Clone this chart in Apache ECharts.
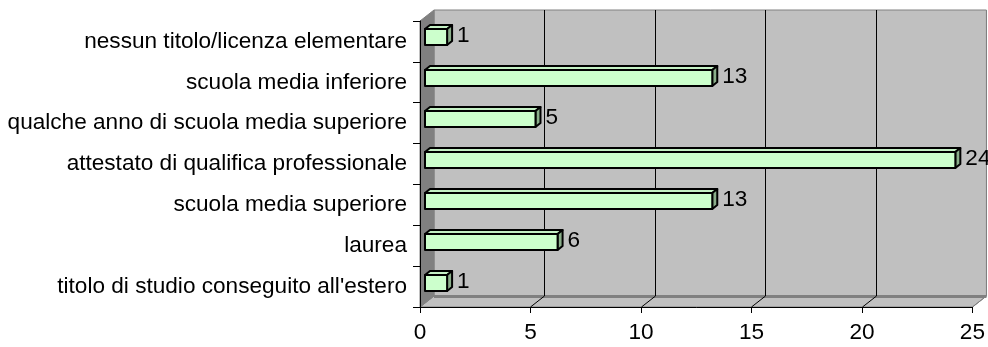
<!DOCTYPE html>
<html>
<head>
<meta charset="utf-8">
<script src="https://cdn.jsdelivr.net/npm/echarts@6/dist/echarts.min.js"></script>
<style>
html,body{margin:0;padding:0;background:#fff;}
#c{width:988px;height:347px;}
</style>
</head>
<body>
<div id="c"></div>
<script>
const categories = ['nessun titolo/licenza elementare', 'scuola media inferiore', 'qualche anno di scuola media superiore', 'attestato di qualifica professionale', 'scuola media superiore', 'laurea', "titolo di studio conseguito all'estero"];
const values = [1, 13, 5, 24, 13, 6, 1];
const xTicks = [0, 5, 10, 15, 20, 25];

const FONT = '"Liberation Sans", Arial, sans-serif';
const FS = 22.6;
const WD = 14, WH = -11; // wall depth offset

const chart = echarts.init(document.getElementById('c'), null, {renderer: 'canvas'});

function renderBackground(params, api) {
  const cs = params.coordSys;
  const X = cs.x, Y = cs.y, W = cs.width, H = cs.height;
  const children = [];
  children.push({type: 'rect', shape: {x: X + WD, y: Y + WH, width: W, height: H}, style: {fill: '#c0c0c0', stroke: '#808080', lineWidth: 1}});
  children.push({type: 'polygon', shape: {points: [[X, Y + H], [X + WD, Y + H + WH], [X + W + WD, Y + H + WH], [X + W, Y + H]]}, style: {fill: '#c0c0c0', stroke: '#808080', lineWidth: 1}});
  children.push({type: 'line', shape: {x1: X + WD, y1: Y + H + WH + 0.5, x2: X + W + WD, y2: Y + H + WH + 0.5}, style: {stroke: '#808080', lineWidth: 3}});
  children.push({type: 'polygon', shape: {points: [[X, Y], [X + WD, Y + WH], [X + WD, Y + H + WH], [X, Y + H]]}, style: {fill: '#808080', stroke: '#808080', lineWidth: 1}});
  xTicks.forEach(function (t) {
    if (t === 0) return;
    const px = Math.round(api.coord([t, 0])[0]) + 0.5;
    const last = t === xTicks[xTicks.length - 1];
    const col = last ? '#808080' : '#000';
    children.push({type: 'line', shape: {x1: px + WD, y1: Y + WH, x2: px + WD, y2: Y + H + WH}, style: {stroke: col, lineWidth: 1}});
    children.push({type: 'line', shape: {x1: px, y1: Y + H, x2: px + WD, y2: Y + H + WH}, style: {stroke: col, lineWidth: 1}});
  });
  return {type: 'group', children: children};
}

function renderBar(params, api) {
  const v = api.value(0), c = api.value(1);
  const p0 = api.coord([0, c]), p1 = api.coord([v, c]);
  const dx = 5, dy = -4, h = 16;
  const x0 = p0[0] + dx, x1 = p1[0] + dx, yc = Math.round(p0[1] + dy);
  const top = yc - h / 2, bot = yc + h / 2;
  const st = {stroke: '#000', lineWidth: 2, lineJoin: 'round'};
  return {
    type: 'group',
    children: [
      {type: 'polygon', shape: {points: [[x0, top], [x0 + dx, top + dy], [x1 + dx, top + dy], [x1, top]]}, style: Object.assign({fill: '#c4f0c4'}, st)},
      {type: 'polygon', shape: {points: [[x1, top], [x1 + dx, top + dy], [x1 + dx, bot + dy], [x1, bot]]}, style: Object.assign({fill: '#8aae8a'}, st)},
      {type: 'rect', shape: {x: x0, y: top, width: x1 - x0, height: h}, style: Object.assign({fill: '#ccffcc'}, st)},
      {type: 'text', x: x1 + dx + 5, y: yc - 1, style: {text: String(v), font: FS + 'px ' + FONT, fill: '#000', align: 'left', verticalAlign: 'middle'}}
    ]
  };
}

chart.setOption({
  animation: false,
  backgroundColor: '#ffffff',
  grid: {left: 420, top: 21, width: 553, height: 286},
  xAxis: {
    type: 'value', min: 0, max: 25, interval: 5, z: 10,
    axisLine: {show: true, lineStyle: {color: '#000', width: 1}},
    axisTick: {show: true, length: 6, lineStyle: {color: '#000'}},
    axisLabel: {fontFamily: FONT, fontSize: FS, color: '#000', margin: 14},
    splitLine: {show: false}
  },
  yAxis: {
    type: 'category', data: categories, inverse: true, z: 10,
    axisLine: {show: true, lineStyle: {color: '#000', width: 1}},
    axisTick: {show: true, length: 7, lineStyle: {color: '#000'}},
    axisLabel: {fontFamily: FONT, fontSize: FS, color: '#000', margin: 13},
    splitLine: {show: false}
  },
  series: [
    {type: 'custom', z: 1, silent: true, clip: false, renderItem: renderBackground, data: [[0, 0]]},
    {type: 'custom', z: 5, clip: false, renderItem: renderBar, encode: {x: 0, y: 1},
     data: values.map(function (v, i) { return [v, i]; })}
  ]
});
</script>
</body>
</html>
